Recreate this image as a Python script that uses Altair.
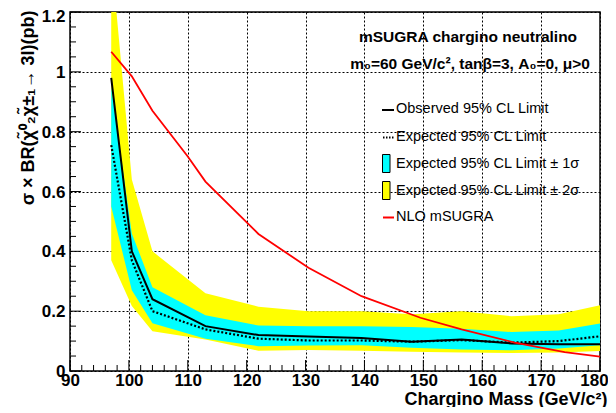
import altair as alt
import pandas as pd

# ---- data ----
mass = [97, 100.5, 104, 113, 122, 130.5, 139.5, 148, 156.5, 165, 173, 180]
observed = [0.98, 0.40, 0.24, 0.15, 0.12, 0.115, 0.11, 0.098, 0.105, 0.092, 0.089, 0.089]
expected = [0.755, 0.37, 0.20, 0.139, 0.108, 0.102, 0.102, 0.098, 0.103, 0.095, 0.10, 0.116]
sig1_lo = [0.55, 0.27, 0.16, 0.108, 0.083, 0.085, 0.086, 0.078, 0.072, 0.069, 0.075, 0.086]
sig1_hi = [0.95, 0.46, 0.28, 0.186, 0.152, 0.15, 0.15, 0.147, 0.141, 0.13, 0.135, 0.159]
sig2_lo = [0.37, 0.217, 0.133, 0.105, 0.068, 0.07, 0.068, 0.064, 0.062, 0.06, 0.062, 0.067]
sig2_hi = [1.39, 0.64, 0.40, 0.26, 0.215, 0.20, 0.20, 0.19, 0.20, 0.183, 0.19, 0.22]

nlo_mass = [97, 100.5, 104, 110, 113, 122, 130.5, 139.5, 149.5, 156.5, 165.5, 174, 180]
nlo_xsec = [1.067, 0.985, 0.87, 0.717, 0.633, 0.458, 0.345, 0.25, 0.178, 0.139, 0.095, 0.063, 0.048]

x_major = [90, 100, 110, 120, 130, 140, 150, 160, 170, 180]
x_minor = [v for v in range(90, 181, 2) if v % 10 != 0]
y_major = [0, 0.2, 0.4, 0.6, 0.8, 1.0, 1.2]
y_minor = [round(i * 0.05, 2) for i in range(25) if i % 4 != 0]

legend_labels = ["Observed 95% CL Limit", "Expected 95% CL Limit",
                 "Expected 95% CL Limit \u00b1 1\u03c3", "Expected 95% CL Limit \u00b1 2\u03c3",
                 "NLO mSUGRA"]

W, H = 530, 359
FONT = "Liberation Sans"

df = pd.DataFrame(dict(mass=mass, observed=observed, expected=expected,
                       s1lo=sig1_lo, s1hi=sig1_hi, s2lo=sig2_lo, s2hi=sig2_hi))
dnlo = pd.DataFrame(dict(mass=nlo_mass, xsec=nlo_xsec))

xscale = alt.Scale(domain=[90, 180], nice=False, zero=False)
yscale = alt.Scale(domain=[0, 1.2], nice=False, zero=True)

XTITLE = "Chargino Mass (GeV/c\u00b2)"
YTITLE = "\u03c3 \u00d7 BR(\u03c7\u0303\u2070\u2082\u03c7\u0303\u00b1\u2081\u2192 3l)(pb)"

xaxis = alt.Axis(values=x_major, format="d", ticks=False, domain=False,
                 labelFont=FONT, labelFontWeight="bold", labelFontSize=17, labelColor="black",
                 labelPadding=1, labelFlush=False, labelOverlap=False,
                 labelOffset={"condition": {"test": "datum.value == 180", "value": -6}, "value": 0},
                 grid=True, gridColor="black", gridDash=[2, 2], gridWidth=1, gridOpacity=1,
                 titleFont=FONT, titleFontWeight="bold",
                 titleFontSize=18, titleColor="black", titleAlign="right",
                 titleBaseline="alphabetic", titleX=W + 7, titleY=33)
yaxis = alt.Axis(values=y_major, format="~g", ticks=False, domain=False,
                 labelFont=FONT, labelFontWeight="bold", labelFontSize=17, labelColor="black",
                 labelPadding=5, labelFlush=False, labelOverlap=False,
                 labelOffset={"condition": {"test": "datum.value == 1.2", "value": 4}, "value": 0.5},
                 grid=True, gridColor="black", gridDash=[2, 2], gridWidth=1, gridOpacity=1,
                 titleFont=FONT, titleFontWeight="bold", titleFontSize=18, titleColor="black",
                 titleAngle=270, titleAlign="right", titleBaseline="alphabetic",
                 titleX=-37, titleY=-2)


def X(field):
    return alt.X(field, type="quantitative", scale=xscale, axis=xaxis, title=XTITLE)


def Y(field):
    return alt.Y(field, type="quantitative", scale=yscale, axis=yaxis, title=YTITLE)


base = alt.Chart(df)

band2 = base.mark_area(color="#ffff00", opacity=1, clip=True).encode(
    x=X("mass"), y=Y("s2lo"), y2="s2hi:Q")
band1 = base.mark_area(color="#00ffff", opacity=1, clip=True).encode(
    x=X("mass"), y=Y("s1lo"), y2="s1hi:Q")
exp_line = base.mark_line(color="black", strokeWidth=2.2, strokeDash=[2, 2], clip=True).encode(
    x=X("mass"), y=Y("expected"))
obs_line = base.mark_line(color="black", strokeWidth=2, clip=True).encode(
    x=X("mass"), y=Y("observed"))
nlo_line = alt.Chart(dnlo).mark_line(color="#ff0000", strokeWidth=1.8, clip=True).encode(
    x=X("mass"), y=Y("xsec"))


# inward ticks (ROOT style)
def xticks(vals, L):
    return alt.Chart(pd.DataFrame({"v": vals})).mark_rule(color="black", strokeWidth=1).encode(
        x=X("v"), y=alt.value(H), y2=alt.value(H - L))


def yticks(vals, L):
    return alt.Chart(pd.DataFrame({"v": vals})).mark_rule(color="black", strokeWidth=1).encode(
        y=Y("v"), x=alt.value(0), x2=alt.value(L))


ticks = [xticks(x_major, 11), xticks(x_minor, 6), yticks(y_major, 11), yticks(y_minor, 6)]


# annotations
def txt(s, x, y, size=15.5, weight="bold", align="center"):
    return alt.Chart(pd.DataFrame({"t": [s]})).mark_text(
        font=FONT, fontSize=size, fontWeight=weight, align=align, baseline="middle",
        color="black").encode(text="t:N", x=alt.value(x), y=alt.value(y))


ann = [txt("mSUGRA chargino neutralino", 398, 25),
       txt("m\u2080=60 GeV/c\u00b2, tan\u03b2=3, A\u2080=0, \u03bc>0", 400, 52)]

# legend
rows_y = [97, 124.5, 151.5, 178.5, 204.5]
one = pd.DataFrame({"a": [0]})
leg = []
leg.append(alt.Chart(one).mark_rule(color="black", strokeWidth=2).encode(
    x=alt.value(312), x2=alt.value(324), y=alt.value(rows_y[0] + 1)))
leg.append(alt.Chart(one).mark_rule(color="black", strokeWidth=2, strokeDash=[1.5, 1.5]).encode(
    x=alt.value(313), x2=alt.value(324), y=alt.value(rows_y[1] + 1)))
leg.append(alt.Chart(one).mark_rect(color="#00ffff", stroke="black", strokeWidth=1).encode(
    x=alt.value(312.5), x2=alt.value(320), y=alt.value(rows_y[2] - 9), y2=alt.value(rows_y[2] + 9)))
leg.append(alt.Chart(one).mark_rect(color="#ffff00", stroke="black", strokeWidth=1).encode(
    x=alt.value(312.5), x2=alt.value(320), y=alt.value(rows_y[3] - 9), y2=alt.value(rows_y[3] + 9)))
leg.append(alt.Chart(one).mark_rule(color="#ff0000", strokeWidth=2).encode(
    x=alt.value(313), x2=alt.value(324), y=alt.value(rows_y[4] + 1)))
for lab, yy in zip(legend_labels, rows_y):
    leg.append(txt(lab, 326, yy, size=14.5, weight="normal", align="left"))

chart = alt.layer(band2, band1, exp_line, obs_line, nlo_line, *ticks, *ann, *leg).properties(
    width=W, height=H,
    autosize=alt.AutoSizeParams(type="none"),
    padding={"left": 62, "top": 4, "right": 8, "bottom": 36},
    background="white",
).configure_view(stroke="black", strokeWidth=1.5)

chart.save("out.html", embed_options={"renderer": "svg", "actions": False})
